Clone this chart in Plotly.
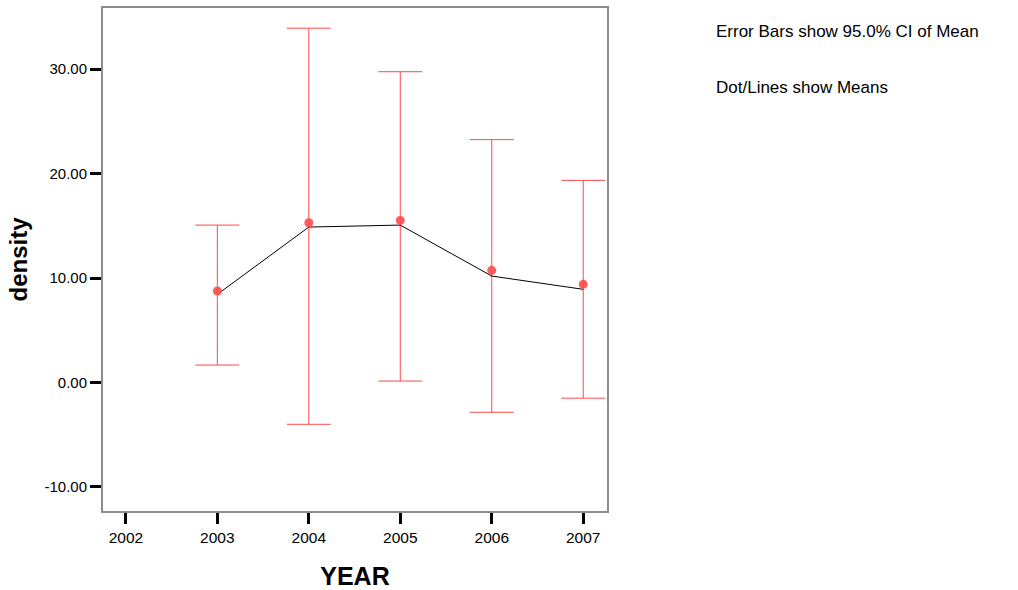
import plotly.graph_objects as go

years = [2003, 2004, 2005, 2006, 2007]
means = [8.44, 14.88, 15.07, 10.19, 8.92]
dot_means = [8.76, 15.29, 15.52, 10.74, 9.40]
ci_upper = [15.07, 33.92, 29.75, 23.25, 19.35]
ci_lower = [1.67, -4.00, 0.14, -2.85, -1.50]
x_ticks = [2002, 2003, 2004, 2005, 2006, 2007]
y_ticks = [-10, 0, 10, 20, 30]

err_plus = [u - m for u, m in zip(ci_upper, means)]
err_minus = [m - l for m, l in zip(means, ci_lower)]

red = "#ff4a4a"
font = "Liberation Sans, Arial, sans-serif"

fig = go.Figure()
fig.add_trace(go.Scatter(
    x=years, y=means, mode="lines",
    line=dict(color="black", width=1),
    error_y=dict(type="data", symmetric=False, array=err_plus, arrayminus=err_minus,
                 color=red, thickness=1, width=22),
    showlegend=False, hoverinfo="skip"))
fig.add_trace(go.Scatter(
    x=years, y=dot_means, mode="markers",
    marker=dict(color=red, size=9, opacity=0.9),
    showlegend=False))

fig.update_layout(
    width=1018, height=590,
    margin=dict(l=103, r=411, t=8, b=79),
    paper_bgcolor="white", plot_bgcolor="white",
    font=dict(family=font, color="black", size=15),
    xaxis=dict(range=[2001.75, 2007.26], tickvals=x_ticks, ticktext=[str(v) for v in x_ticks],
               showgrid=False, zeroline=False, showline=True, linecolor="#8c8c8c", linewidth=2,
               mirror=True, ticks="outside", ticklen=11, tickwidth=3, tickcolor="black",
               automargin=False,
               tickfont=dict(size=15.5, family=font),
               title=dict(text="<b>YEAR</b>", font=dict(size=25, family=font), standoff=24)),
    yaxis=dict(range=[-12.3, 35.85], tickvals=y_ticks, ticktext=["%.2f" % v for v in y_ticks],
               showgrid=False, zeroline=False, showline=True, linecolor="#8c8c8c", linewidth=2,
               mirror=True, ticks="outside", ticklen=11, tickwidth=3, tickcolor="black",
               automargin=False,
               tickfont=dict(size=15, family=font),
               title=dict(text="<b>density</b>", font=dict(size=24, family=font), standoff=10)),
    annotations=[
        dict(text="Error Bars show 95.0% CI of Mean", xref="paper", yref="paper",
             x=1.212, y=0.954, xanchor="left", yanchor="middle", showarrow=False,
             font=dict(size=17, family=font)),
        dict(text="Dot/Lines show Means", xref="paper", yref="paper",
             x=1.212, y=0.841, xanchor="left", yanchor="middle", showarrow=False,
             font=dict(size=17, family=font)),
    ],
)

fig.write_html("out.html")
